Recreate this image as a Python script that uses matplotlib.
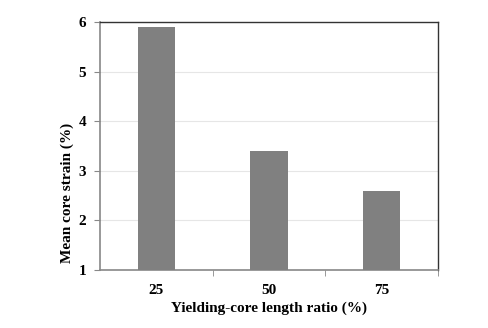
import matplotlib.pyplot as plt
import numpy as np

plt.rcParams['font.family'] = ['Liberation Serif', 'DejaVu Serif']
plt.rcParams['font.weight'] = 'bold'

# data
ratios = ['25', '50', '75']
strain = [5.9, 3.4, 2.6]

W, H = 489, 328
fig = plt.figure(figsize=(W / 100, H / 100), dpi=100)
ax = fig.add_axes([100 / W, 1 - 270 / H, 338 / W, 248 / H])

x = np.arange(len(ratios))
ax.bar(x, strain, width=0.33, color='#808080', zorder=3)

ax.set_xlim(-0.5, len(ratios) - 0.5)
ax.set_ylim(1, 6)
ax.set_yticks([1, 2, 3, 4, 5, 6])
ax.yaxis.grid(True, color='#e6e6e6', linewidth=0.8, zorder=0)

# category labels centred, tick marks at category boundaries
ax.set_xticks(x)
ax.set_xticklabels(ratios, fontsize=11, fontweight='bold')
ax.set_xticks([0.5, 1.5, 2.5], minor=True)
ax.tick_params(axis='x', which='major', length=0, pad=10)
ax.tick_params(axis='x', which='minor', length=4, color='#888888')
ax.tick_params(axis='y', length=4, color='#888888', labelsize=11, pad=6)
for lbl in ax.get_yticklabels():
    lbl.set_fontweight('bold')

for s in ['left', 'bottom']:
    ax.spines[s].set_color('#888888')
    ax.spines[s].set_linewidth(1.2)
for s in ['top', 'right']:
    ax.spines[s].set_color('#333333')
    ax.spines[s].set_linewidth(1.0)

fig.text(269 / W, 1 - 308 / H, 'Yielding-core length ratio (%)', fontsize=11,
         fontweight='bold', ha='center', va='center')
fig.text(67 / W, 1 - 193 / H, 'Mean core strain (%)', fontsize=11,
         fontweight='bold', ha='center', va='center', rotation=90)

plt.savefig('out.png', dpi=100)
